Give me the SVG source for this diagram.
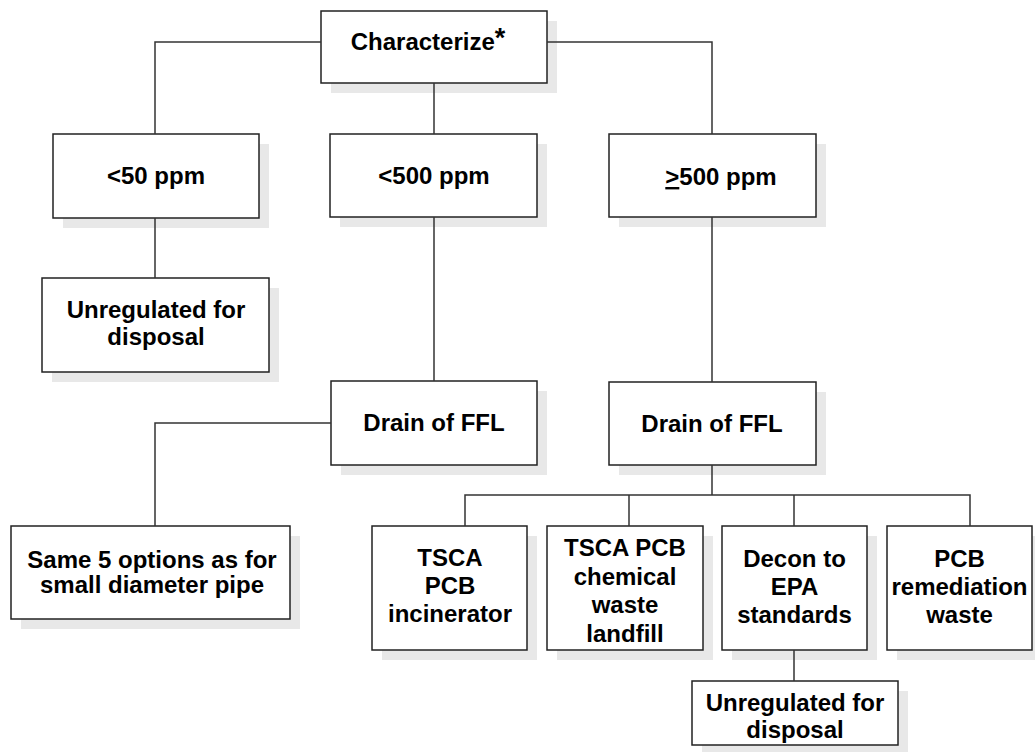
<svg xmlns="http://www.w3.org/2000/svg" width="1035" height="752" viewBox="0 0 1035 752">
<style>
.sh{fill:#e8e8e8;stroke:none}
.bx{fill:#fff;stroke:#222;stroke-width:1.5}
.t{font-family:"Liberation Sans",Arial,sans-serif;font-weight:bold;font-size:24px;fill:#000;text-anchor:middle}
.c{fill:none;stroke:#333;stroke-width:1.5}
</style>
<rect width="1035" height="752" fill="#fff"/>
<g id="characterize">
<rect class="sh" x="331" y="21" width="226" height="72"/>
<rect class="bx" x="321" y="11" width="226" height="72"/>
<text class="t" x="428" y="50">Characterize<tspan font-size="27" dy="-3">*</tspan></text>
</g>
<g id="lt50">
<rect class="sh" x="63" y="144" width="206" height="84"/>
<rect class="bx" x="53" y="134" width="206" height="84"/>
<text class="t" x="156" y="184">&lt;50 ppm</text>
</g>
<g id="lt500">
<rect class="sh" x="340" y="144" width="207" height="83"/>
<rect class="bx" x="330" y="134" width="207" height="83"/>
<text class="t" x="434" y="184">&lt;500 ppm</text>
</g>
<g id="ge500">
<rect class="sh" x="619" y="144" width="207" height="83"/>
<rect class="bx" x="609" y="134" width="207" height="83"/>
<text class="t" x="721" y="185"><tspan text-decoration="underline">&gt;</tspan>500 ppm</text>
</g>
<g id="unreg1">
<rect class="sh" x="52" y="288" width="227" height="94"/>
<rect class="bx" x="42" y="278" width="227" height="94"/>
<text class="t" x="156" y="318">Unregulated for</text>
<text class="t" x="156" y="345">disposal</text>
</g>
<g id="drain1">
<rect class="sh" x="341" y="391" width="206" height="84"/>
<rect class="bx" x="331" y="381" width="206" height="84"/>
<text class="t" x="434" y="431">Drain of FFL</text>
</g>
<g id="drain2">
<rect class="sh" x="619" y="392" width="207" height="83"/>
<rect class="bx" x="609" y="382" width="207" height="83"/>
<text class="t" x="712" y="432">Drain of FFL</text>
</g>
<g id="same5">
<rect class="sh" x="21" y="536" width="279" height="93"/>
<rect class="bx" x="11" y="526" width="279" height="93"/>
<text class="t" x="152" y="568">Same 5 options as for</text>
<text class="t" x="152" y="593">small diameter pipe</text>
</g>
<g id="tsca-incinerator">
<rect class="sh" x="382" y="536" width="155" height="124"/>
<rect class="bx" x="372" y="526" width="155" height="124"/>
<text class="t" x="450" y="566">TSCA</text>
<text class="t" x="450" y="594">PCB</text>
<text class="t" x="450" y="622">incinerator</text>
</g>
<g id="tsca-landfill">
<rect class="sh" x="557" y="536" width="156" height="124"/>
<rect class="bx" x="547" y="526" width="156" height="124"/>
<text class="t" x="625" y="556">TSCA PCB</text>
<text class="t" x="625" y="585">chemical</text>
<text class="t" x="625" y="613">waste</text>
<text class="t" x="625" y="642">landfill</text>
</g>
<g id="decon">
<rect class="sh" x="732" y="536" width="145" height="124"/>
<rect class="bx" x="722" y="526" width="145" height="124"/>
<text class="t" x="794.5" y="567">Decon to</text>
<text class="t" x="794.5" y="595">EPA</text>
<text class="t" x="794.5" y="623">standards</text>
</g>
<g id="pcb-remediation">
<rect class="sh" x="897" y="536" width="145" height="124"/>
<rect class="bx" x="887" y="526" width="145" height="124"/>
<text class="t" x="959.5" y="567">PCB</text>
<text class="t" x="959.5" y="595">remediation</text>
<text class="t" x="959.5" y="623">waste</text>
</g>
<g id="unreg2">
<rect class="sh" x="702" y="691" width="206" height="64"/>
<rect class="bx" x="692" y="681" width="206" height="64"/>
<text class="t" x="795" y="711">Unregulated for</text>
<text class="t" x="795" y="738">disposal</text>
</g>
<g id="connectors">
<path class="c" d="M321,42 H155 V134"/>
<path class="c" d="M547,42 H712 V134"/>
<path class="c" d="M434,83 V134"/>
<path class="c" d="M155,218 V278"/>
<path class="c" d="M434,217 V381"/>
<path class="c" d="M712,217 V382"/>
<path class="c" d="M331,423 H155 V526"/>
<path class="c" d="M712,465 V495"/>
<path class="c" d="M465,526 V495 H970 V526"/>
<path class="c" d="M629,495 V526"/>
<path class="c" d="M794,495 V526"/>
<path class="c" d="M794,650 V681"/>
</g>
</svg>
